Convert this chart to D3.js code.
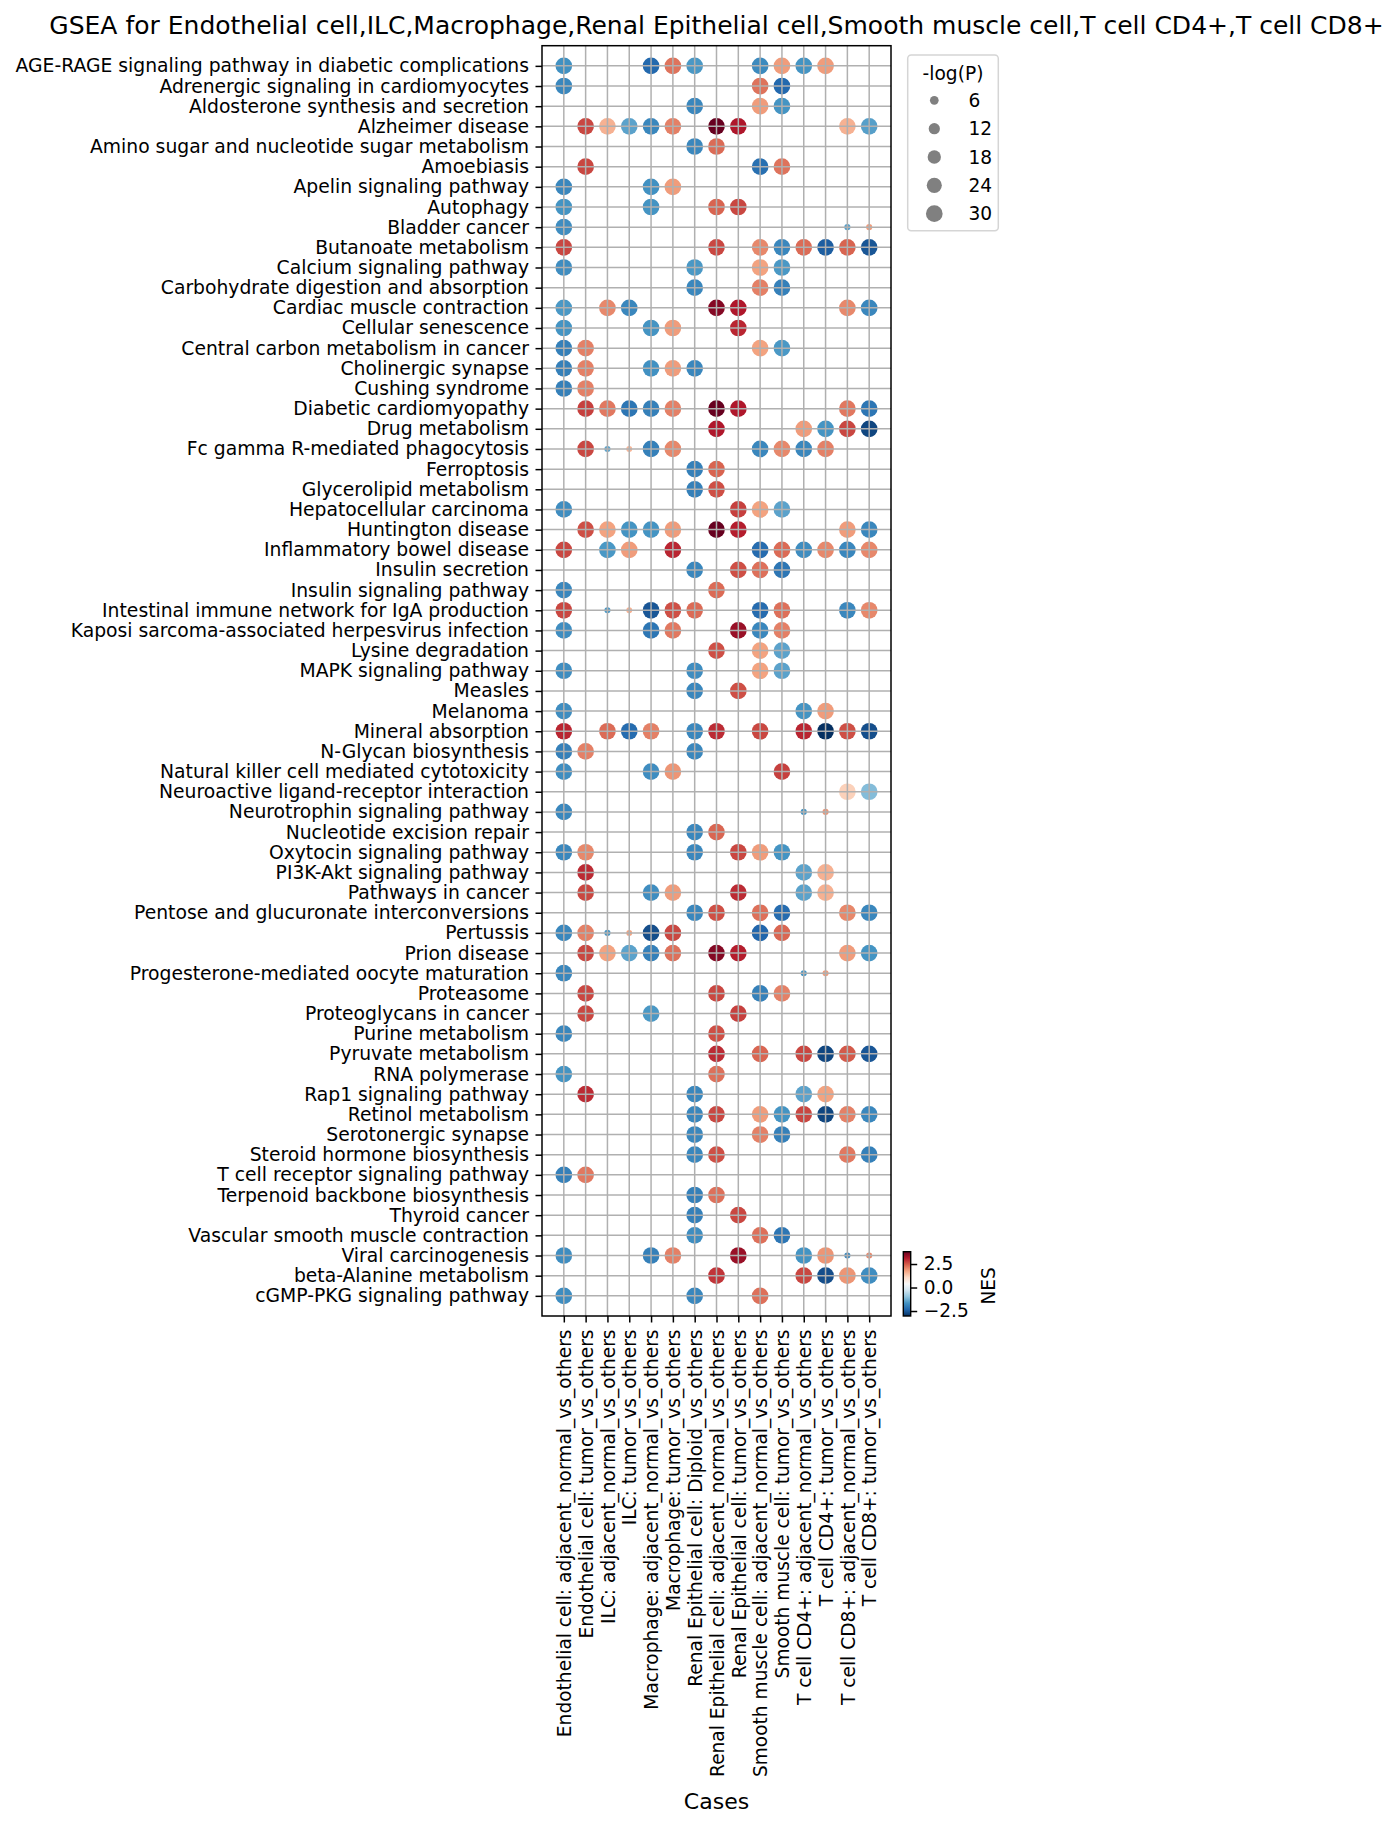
<!DOCTYPE html>
<html>
<head>
<meta charset="utf-8">
<script src="https://cdn.jsdelivr.net/npm/d3@7"></script>
<style>
  html, body { margin: 0; padding: 0; background: #ffffff; }
  svg { display: block; font-family: "DejaVu Sans", sans-serif; }
</style>
</head>
<body>
<svg id="chart" width="1400" height="1829"></svg>
<script>
const _ = null;

const titleText = "GSEA for Endothelial cell,ILC,Macrophage,Renal Epithelial cell,Smooth muscle cell,T cell CD4+,T cell CD8+";

const cases = [
  "Endothelial cell: adjacent_normal_vs_others",
  "Endothelial cell: tumor_vs_others",
  "ILC: adjacent_normal_vs_others",
  "ILC: tumor_vs_others",
  "Macrophage: adjacent_normal_vs_others",
  "Macrophage: tumor_vs_others",
  "Renal Epithelial cell: Diploid_vs_others",
  "Renal Epithelial cell: adjacent_normal_vs_others",
  "Renal Epithelial cell: tumor_vs_others",
  "Smooth muscle cell: adjacent_normal_vs_others",
  "Smooth muscle cell: tumor_vs_others",
  "T cell CD4+: adjacent_normal_vs_others",
  "T cell CD4+: tumor_vs_others",
  "T cell CD8+: adjacent_normal_vs_others",
  "T cell CD8+: tumor_vs_others"
];

const pathways = [
  "AGE-RAGE signaling pathway in diabetic complications",
  "Adrenergic signaling in cardiomyocytes",
  "Aldosterone synthesis and secretion",
  "Alzheimer disease",
  "Amino sugar and nucleotide sugar metabolism",
  "Amoebiasis",
  "Apelin signaling pathway",
  "Autophagy",
  "Bladder cancer",
  "Butanoate metabolism",
  "Calcium signaling pathway",
  "Carbohydrate digestion and absorption",
  "Cardiac muscle contraction",
  "Cellular senescence",
  "Central carbon metabolism in cancer",
  "Cholinergic synapse",
  "Cushing syndrome",
  "Diabetic cardiomyopathy",
  "Drug metabolism",
  "Fc gamma R-mediated phagocytosis",
  "Ferroptosis",
  "Glycerolipid metabolism",
  "Hepatocellular carcinoma",
  "Huntington disease",
  "Inflammatory bowel disease",
  "Insulin secretion",
  "Insulin signaling pathway",
  "Intestinal immune network for IgA production",
  "Kaposi sarcoma-associated herpesvirus infection",
  "Lysine degradation",
  "MAPK signaling pathway",
  "Measles",
  "Melanoma",
  "Mineral absorption",
  "N-Glycan biosynthesis",
  "Natural killer cell mediated cytotoxicity",
  "Neuroactive ligand-receptor interaction",
  "Neurotrophin signaling pathway",
  "Nucleotide excision repair",
  "Oxytocin signaling pathway",
  "PI3K-Akt signaling pathway",
  "Pathways in cancer",
  "Pentose and glucuronate interconversions",
  "Pertussis",
  "Prion disease",
  "Progesterone-mediated oocyte maturation",
  "Proteasome",
  "Proteoglycans in cancer",
  "Purine metabolism",
  "Pyruvate metabolism",
  "RNA polymerase",
  "Rap1 signaling pathway",
  "Retinol metabolism",
  "Serotonergic synapse",
  "Steroid hormone biosynthesis",
  "T cell receptor signaling pathway",
  "Terpenoid backbone biosynthesis",
  "Thyroid cancer",
  "Vascular smooth muscle contraction",
  "Viral carcinogenesis",
  "beta-Alanine metabolism",
  "cGMP-PKG signaling pathway"
];

// NES per pathway (rows) x case (columns); null = not shown
const nes = [
  [-1.7,_,_,_,-2.3,2.25,-1.6,_,_,-1.8,1.85,-1.65,1.85,_,_],
  [-1.85,_,_,_,_,_,_,_,_,2.25,-2.3,_,_,_,_],
  [_,_,_,_,_,_,-1.85,_,_,1.85,-1.65,_,_,_,_],
  [_,2.68,1.6,-1.45,-1.85,2.12,_,3.81,3.15,_,_,_,_,1.6,-1.5],
  [_,_,_,_,_,_,-1.85,2.33,_,_,_,_,_,_,_],
  [_,2.68,_,_,_,_,_,_,_,-2.2,2.25,_,_,_,_],
  [-1.85,_,_,_,-1.7,1.85,_,_,_,_,_,_,_,_,_],
  [-1.65,_,_,_,-1.65,_,_,2.4,2.68,_,_,_,_,_,_],
  [-1.75,_,_,_,_,_,_,_,_,_,_,_,_,-1.5,1.85],
  [2.68,_,_,_,_,_,_,2.68,_,2.05,-1.85,2.33,-2.45,2.4,-2.55],
  [-1.75,_,_,_,_,_,-1.6,_,_,1.78,-1.6,_,_,_,_],
  [_,_,_,_,_,_,-1.85,_,_,2.12,-1.95,_,_,_,_],
  [-1.6,_,2.05,-1.85,_,_,_,3.55,3.15,_,_,_,_,2.05,-1.85],
  [-1.65,_,_,_,-1.65,1.85,_,_,3.0,_,_,_,_,_,_],
  [-1.95,2.12,_,_,_,_,_,_,_,1.78,-1.6,_,_,_,_],
  [-1.95,2.12,_,_,-1.7,1.85,-1.85,_,_,_,_,_,_,_,_],
  [-1.95,2.12,_,_,_,_,_,_,_,_,_,_,_,_,_],
  [_,2.75,2.2,-2.1,-1.95,2.12,_,3.81,3.15,_,_,_,_,2.2,-2.1],
  [_,_,_,_,_,_,_,3.15,_,_,_,1.85,-1.65,2.68,-2.75],
  [_,2.68,-1.45,1.55,-1.95,2.05,_,_,_,-1.85,2.05,-1.85,2.12,_,_],
  [_,_,_,_,_,_,-1.95,2.4,_,_,_,_,_,_,_],
  [_,_,_,_,_,_,-1.95,2.6,_,_,_,_,_,_,_],
  [-1.75,_,_,_,_,_,_,_,2.75,1.78,-1.45,_,_,_,_],
  [_,2.6,1.78,-1.65,-1.65,1.85,_,3.81,3.08,_,_,_,_,1.85,-1.85],
  [2.68,_,-1.6,1.85,_,3.0,_,_,_,-2.25,2.33,-1.75,2.05,-1.85,2.05],
  [_,_,_,_,_,_,-1.85,_,2.6,2.28,-2.1,_,_,_,_],
  [-1.85,_,_,_,_,_,_,2.33,_,_,_,_,_,_,_],
  [2.68,_,-1.6,1.6,-2.55,2.6,2.33,_,_,-2.25,2.28,_,_,-1.85,2.05],
  [-1.75,_,_,_,-2.1,2.2,_,_,3.35,-1.85,2.12,_,_,_,_],
  [_,_,_,_,_,_,_,2.6,_,1.78,-1.45,_,_,_,_],
  [-1.75,_,_,_,_,_,-1.75,_,_,1.78,-1.45,_,_,_,_],
  [_,_,_,_,_,_,-1.85,_,2.6,_,_,_,_,_,_],
  [-1.75,_,_,_,_,_,_,_,_,_,_,-1.65,1.85,_,_],
  [3.0,_,2.33,-2.25,2.12,_,-1.85,2.95,_,2.68,_,3.0,-3.03,2.6,-2.65],
  [-1.95,2.12,_,_,_,_,-1.85,_,_,_,_,_,_,_,_],
  [-1.75,_,_,_,-1.75,1.92,_,_,_,_,2.75,_,_,_,_],
  [_,_,_,_,_,_,_,_,_,_,_,_,_,1.2,-1.1],
  [-1.85,_,_,_,_,_,_,_,_,_,_,-1.65,1.92,_,_],
  [_,_,_,_,_,_,-1.85,2.38,_,_,_,_,_,_,_],
  [-1.85,2.05,_,_,_,_,-1.85,_,2.68,1.85,-1.65,_,_,_,_],
  [_,2.95,_,_,_,_,_,_,_,_,_,-1.45,1.6,_,_],
  [_,2.68,_,_,-1.75,1.85,_,_,2.95,_,_,-1.45,1.6,_,_],
  [_,_,_,_,_,_,-1.85,2.6,_,2.28,-2.25,_,_,2.05,-1.85],
  [-1.85,2.12,-1.65,1.78,-2.65,2.68,_,_,_,-2.35,2.38,_,_,_,_],
  [_,2.68,1.78,-1.45,-1.95,2.28,_,3.55,3.08,_,_,_,_,1.85,-1.65],
  [-1.85,_,_,_,_,_,_,_,_,_,_,-1.65,1.85,_,_],
  [_,2.68,_,_,_,_,_,2.68,_,-1.95,2.12,_,_,_,_],
  [_,2.68,_,_,-1.6,_,_,_,2.75,_,_,_,_,_,_],
  [-1.85,_,_,_,_,_,_,2.6,_,_,_,_,_,_,_],
  [_,_,_,_,_,_,_,2.95,_,2.38,_,2.68,-2.75,2.5,-2.55],
  [-1.65,_,_,_,_,_,_,2.28,_,_,_,_,_,_,_],
  [_,2.95,_,_,_,_,-1.85,_,_,_,_,-1.45,1.78,_,_],
  [_,_,_,_,_,_,-1.85,2.68,_,1.85,-1.65,2.68,-2.75,2.12,-1.85],
  [_,_,_,_,_,_,-1.85,_,_,2.12,-1.95,_,_,_,_],
  [_,_,_,_,_,_,-1.85,2.6,_,_,_,_,_,2.2,-1.95],
  [-1.95,2.2,_,_,_,_,_,_,_,_,_,_,_,_,_],
  [_,_,_,_,_,_,-1.95,2.28,_,_,_,_,_,_,_],
  [_,_,_,_,_,_,-1.95,_,2.68,_,_,_,_,_,_],
  [_,_,_,_,_,_,-1.75,_,_,2.28,-2.1,_,_,_,_],
  [-1.75,_,_,_,-1.95,2.12,_,_,3.35,_,_,-1.65,1.92,-1.85,2.05],
  [_,_,_,_,_,_,_,2.85,_,_,_,2.68,-2.65,1.92,-1.75],
  [-1.75,_,_,_,_,_,-1.85,_,_,2.28,_,_,_,_,_]
];

// -log(P) per pathway x case
const negLogP = [
  [30,_,_,_,30,30,30,_,_,30,30,30,30,_,_],
  [30,_,_,_,_,_,_,_,_,30,30,_,_,_,_],
  [_,_,_,_,_,_,30,_,_,30,30,_,_,_,_],
  [_,30,30,30,30,30,_,30,30,_,_,_,_,30,30],
  [_,_,_,_,_,_,30,30,_,_,_,_,_,_,_],
  [_,30,_,_,_,_,_,_,_,30,30,_,_,_,_],
  [30,_,_,_,30,30,_,_,_,_,_,_,_,_,_],
  [30,_,_,_,30,_,_,30,30,_,_,_,_,_,_],
  [30,_,_,_,_,_,_,_,_,_,_,_,_,1.5,1.5],
  [30,_,_,_,_,_,_,30,_,30,30,30,30,30,30],
  [30,_,_,_,_,_,30,_,_,30,30,_,_,_,_],
  [_,_,_,_,_,_,30,_,_,30,30,_,_,_,_],
  [30,_,30,30,_,_,_,30,30,_,_,_,_,30,30],
  [30,_,_,_,30,30,_,_,30,_,_,_,_,_,_],
  [30,30,_,_,_,_,_,_,_,30,30,_,_,_,_],
  [30,30,_,_,30,30,30,_,_,_,_,_,_,_,_],
  [30,30,_,_,_,_,_,_,_,_,_,_,_,_,_],
  [_,30,30,30,30,30,_,30,30,_,_,_,_,30,30],
  [_,_,_,_,_,_,_,30,_,_,_,30,30,30,30],
  [_,30,1.5,1.2,30,30,_,_,_,30,30,30,30,_,_],
  [_,_,_,_,_,_,30,30,_,_,_,_,_,_,_],
  [_,_,_,_,_,_,30,30,_,_,_,_,_,_,_],
  [30,_,_,_,_,_,_,_,30,30,30,_,_,_,_],
  [_,30,30,30,30,30,_,30,30,_,_,_,_,30,30],
  [30,_,30,30,_,30,_,_,_,30,30,30,30,30,30],
  [_,_,_,_,_,_,30,_,30,30,30,_,_,_,_],
  [30,_,_,_,_,_,_,30,_,_,_,_,_,_,_],
  [30,_,1.5,1.2,30,30,30,_,_,30,30,_,_,30,30],
  [30,_,_,_,30,30,_,_,30,30,30,_,_,_,_],
  [_,_,_,_,_,_,_,30,_,30,30,_,_,_,_],
  [30,_,_,_,_,_,30,_,_,30,30,_,_,_,_],
  [_,_,_,_,_,_,30,_,30,_,_,_,_,_,_],
  [30,_,_,_,_,_,_,_,_,_,_,30,30,_,_],
  [30,_,30,30,30,_,30,30,_,30,_,30,30,30,30],
  [30,30,_,_,_,_,30,_,_,_,_,_,_,_,_],
  [30,_,_,_,30,30,_,_,_,_,30,_,_,_,_],
  [_,_,_,_,_,_,_,_,_,_,_,_,_,30,30],
  [30,_,_,_,_,_,_,_,_,_,_,1.5,1.5,_,_],
  [_,_,_,_,_,_,30,30,_,_,_,_,_,_,_],
  [30,30,_,_,_,_,30,_,30,30,30,_,_,_,_],
  [_,30,_,_,_,_,_,_,_,_,_,30,30,_,_],
  [_,30,_,_,30,30,_,_,30,_,_,30,30,_,_],
  [_,_,_,_,_,_,30,30,_,30,30,_,_,30,30],
  [30,30,1.5,1.2,30,30,_,_,_,30,30,_,_,_,_],
  [_,30,30,30,30,30,_,30,30,_,_,_,_,30,30],
  [30,_,_,_,_,_,_,_,_,_,_,1.5,1.5,_,_],
  [_,30,_,_,_,_,_,30,_,30,30,_,_,_,_],
  [_,30,_,_,30,_,_,_,30,_,_,_,_,_,_],
  [30,_,_,_,_,_,_,30,_,_,_,_,_,_,_],
  [_,_,_,_,_,_,_,30,_,30,_,30,30,30,30],
  [30,_,_,_,_,_,_,30,_,_,_,_,_,_,_],
  [_,30,_,_,_,_,30,_,_,_,_,30,30,_,_],
  [_,_,_,_,_,_,30,30,_,30,30,30,30,30,30],
  [_,_,_,_,_,_,30,_,_,30,30,_,_,_,_],
  [_,_,_,_,_,_,30,30,_,_,_,_,_,30,30],
  [30,30,_,_,_,_,_,_,_,_,_,_,_,_,_],
  [_,_,_,_,_,_,30,30,_,_,_,_,_,_,_],
  [_,_,_,_,_,_,30,_,30,_,_,_,_,_,_],
  [_,_,_,_,_,_,30,_,_,30,30,_,_,_,_],
  [30,_,_,_,30,30,_,_,30,_,_,30,30,1.5,1.5],
  [_,_,_,_,_,_,_,30,_,_,_,30,30,30,30],
  [30,_,_,_,_,_,30,_,_,30,_,_,_,_,_]
];

const sizeLegendValues = [6, 12, 18, 24, 30];
const colorbarTicks = [2.5, 0.0, -2.5];

// matplotlib RdBu_r colour stops
const rdbuR = ["#053061","#2166ac","#4393c3","#92c5de","#d1e5f0","#f7f7f7",
               "#fddbc7","#f4a582","#d6604d","#b2182b","#67001f"];

// ---------- layout ----------
const FONT = 18.6;
const YFONT = 18.75;
const ax = { left: 542, right: 891, top: 45.7, bottom: 1316 };

const svg = d3.select("#chart");

const records = [];
pathways.forEach((p, i) => {
  cases.forEach((c, j) => {
    const v = nes[i][j];
    if (v !== null) records.push({ pathway: p, case: c, nes: v, logp: negLogP[i][j] });
  });
});

const x = d3.scalePoint().domain(cases).range([ax.left, ax.right]).padding(1);
const y = d3.scalePoint().domain(pathways).range([ax.top, ax.bottom]).padding(1);

const [vmin, vmax] = d3.extent(records, d => d.nes);
const color = d3.scaleLinear()
  .domain(d3.range(rdbuR.length).map(k => vmin + (vmax - vmin) * k / (rdbuR.length - 1)))
  .range(rdbuR)
  .interpolate(d3.interpolateRgb);

const size = d3.scaleRadial().domain([6, 30]).range([4.35, 8.35]);

// title
svg.append("text")
  .attr("x", (ax.left + ax.right) / 2)
  .attr("y", 33.8)
  .attr("text-anchor", "middle")
  .attr("font-size", 25)
  .attr("fill", "#000")
  .text(titleText);

// dots
svg.append("g").selectAll("circle")
  .data(records)
  .join("circle")
  .attr("cx", d => x(d.case))
  .attr("cy", d => y(d.pathway))
  .attr("r", d => size(d.logp))
  .attr("fill", d => color(d.nes));

// grid (above the dots)
const grid = svg.append("g").attr("stroke", "#b0b0b0").attr("stroke-width", 1.5);
grid.selectAll("line.v").data(cases).join("line")
  .attr("class", "v")
  .attr("x1", d => x(d)).attr("x2", d => x(d))
  .attr("y1", ax.top).attr("y2", ax.bottom);
grid.selectAll("line.h").data(pathways).join("line")
  .attr("class", "h")
  .attr("x1", ax.left).attr("x2", ax.right)
  .attr("y1", d => y(d)).attr("y2", d => y(d));

// axes
const yAxis = d3.axisLeft(y).tickSize(6.5).tickPadding(6.5);
const gy = svg.append("g").attr("transform", `translate(${ax.left},0)`).call(yAxis);
gy.select(".domain").remove();
gy.selectAll(".tick line").attr("stroke", "#000").attr("stroke-width", 1.5);
gy.selectAll(".tick text").attr("font-size", YFONT).attr("font-family", "DejaVu Sans").attr("fill", "#000");

const xAxis = d3.axisBottom(x).tickSize(6.5).tickPadding(6.5);
const gx = svg.append("g").attr("transform", `translate(0,${ax.bottom})`).call(xAxis);
gx.select(".domain").remove();
gx.selectAll(".tick line").attr("stroke", "#000").attr("stroke-width", 1.5);
gx.selectAll(".tick text")
  .attr("font-size", FONT).attr("font-family", "DejaVu Sans").attr("fill", "#000")
  .attr("text-anchor", "end")
  .attr("transform", "rotate(-90)")
  .attr("x", -13.5)
  .attr("y", 0)
  .attr("dy", "0.36em");

// frame
svg.append("rect")
  .attr("x", ax.left).attr("y", ax.top)
  .attr("width", ax.right - ax.left).attr("height", ax.bottom - ax.top)
  .attr("fill", "none").attr("stroke", "#000").attr("stroke-width", 1.5);

// x-axis title
svg.append("text")
  .attr("x", (ax.left + ax.right) / 2)
  .attr("y", 1809)
  .attr("text-anchor", "middle")
  .attr("font-size", 22)
  .attr("fill", "#000")
  .text("Cases");

// ---------- size legend ----------
const lg = svg.append("g");
lg.append("rect")
  .attr("x", 907.7).attr("y", 55).attr("width", 90.6).attr("height", 175.7)
  .attr("rx", 3.5).attr("fill", "#fff").attr("stroke", "#d5d5d5").attr("stroke-width", 1.5);
lg.append("text")
  .attr("x", 953).attr("y", 73).attr("dy", "0.36em")
  .attr("text-anchor", "middle").attr("font-size", FONT).attr("fill", "#000")
  .text("-log(P)");
const legendY = d3.scalePoint().domain(sizeLegendValues).range([100.3, 213.7]);
const items = lg.selectAll("g.item").data(sizeLegendValues).join("g").attr("class", "item");
items.append("circle")
  .attr("cx", 934.3).attr("cy", d => legendY(d))
  .attr("r", d => size(d)).attr("fill", "#808080");
items.append("text")
  .attr("x", 968.5).attr("y", d => legendY(d)).attr("dy", "0.36em")
  .attr("font-size", FONT).attr("fill", "#000")
  .text(d => d);

// ---------- colorbar ----------
const cb = { x: 903.3, w: 7.4, top: 1251.7, bottom: 1316 };
const cbScale = d3.scaleLinear().domain([vmin, vmax]).range([cb.bottom, cb.top]);
const defs = svg.append("defs");
const grad = defs.append("linearGradient").attr("id", "cbgrad")
  .attr("x1", 0).attr("y1", 1).attr("x2", 0).attr("y2", 0);
grad.selectAll("stop").data(rdbuR).join("stop")
  .attr("offset", (d, k) => k / (rdbuR.length - 1))
  .attr("stop-color", d => d);
svg.append("rect")
  .attr("x", cb.x).attr("y", cb.top).attr("width", cb.w).attr("height", cb.bottom - cb.top)
  .attr("fill", "url(#cbgrad)").attr("stroke", "#000").attr("stroke-width", 1.4);
const cbAxis = d3.axisRight(cbScale).tickValues(colorbarTicks).tickSize(6.5).tickPadding(6.5)
  .tickFormat(d => d3.format(".1f")(d).replace("-", "\u2212"));
const gcb = svg.append("g").attr("transform", `translate(${cb.x + cb.w},0)`).call(cbAxis);
gcb.select(".domain").remove();
gcb.selectAll(".tick line").attr("stroke", "#000").attr("stroke-width", 1.5);
gcb.selectAll(".tick text").attr("font-size", FONT).attr("font-family", "DejaVu Sans").attr("fill", "#000");
svg.append("text")
  .attr("transform", `translate(988,${(cb.top + cb.bottom) / 2 + 2}) rotate(-90)`)
  .attr("text-anchor", "middle").attr("dy", "0.36em")
  .attr("font-size", FONT).attr("fill", "#000")
  .text("NES");
</script>
</body>
</html>
